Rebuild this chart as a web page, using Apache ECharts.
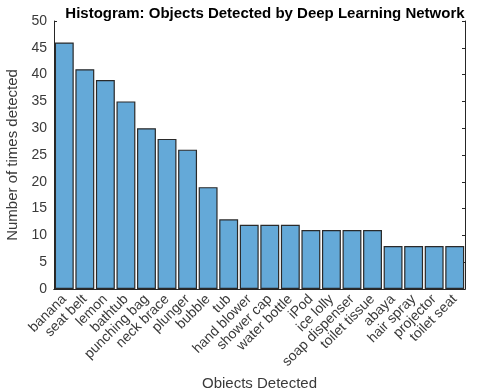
<!DOCTYPE html>
<html><head><meta charset="utf-8">
<script src="https://cdn.jsdelivr.net/npm/echarts@6/dist/echarts.min.js"></script>
<style>html,body{margin:0;padding:0;background:#fff;}#c{width:490px;height:388px;}</style>
</head><body><div id="c"></div>
<script>
const categories = ["banana","seat belt","lemon","bathtub","punching bag","neck brace","plunger","bubble","tub","hand blower","shower cap","water bottle","iPod","ice lolly","soap dispenser","toilet tissue","abaya","hair spray","projector","toilet seat"];
const counts = [46,41,39,35,30,28,26,19,13,12,12,12,11,11,11,11,8,8,8,8];
const yTicks = {min:0,max:50,interval:5};

const font = "Liberation Sans, Arial, Helvetica, sans-serif";
const axisCol = "#262626";
const textCol = "#3a3a3a";
const chart = echarts.init(document.getElementById('c'));
chart.setOption({
  animation:false,
  title:{text:"Histogram: Objects Detected by Deep Learning Network",left:260,textAlign:'center',top:1,
    textStyle:{fontFamily:font,fontSize:15,fontWeight:'bold',color:'#000'}},
  grid:{left:54,right:25,top:21,bottom:99,containLabel:false,outerBoundsMode:'none'},
  xAxis:[{type:'category',data:categories,position:'bottom',
    name:"Objects Detected",nameLocation:'middle',nameGap:76,
    nameTextStyle:{fontFamily:font,fontSize:15,color:textCol},
    axisLine:{lineStyle:{color:axisCol,width:1}},
    axisTick:{inside:true,alignWithLabel:true,length:3,lineStyle:{color:axisCol}},
    axisLabel:{rotate:45,fontFamily:font,fontSize:14,color:textCol,margin:8,interval:0}},
   {type:'category',data:categories,position:'top',
    axisLine:{lineStyle:{color:axisCol,width:1}},
    axisTick:{inside:true,alignWithLabel:true,length:3,lineStyle:{color:axisCol}},
    axisLabel:{show:false}}],
  yAxis:[{type:'value',min:yTicks.min,max:yTicks.max,interval:yTicks.interval,position:'left',
    name:"Number of times detected",nameLocation:'middle',nameGap:29,
    nameTextStyle:{fontFamily:font,fontSize:15,color:textCol},
    axisLine:{show:true,lineStyle:{color:axisCol,width:1}},
    axisTick:{show:true,inside:true,length:3,lineStyle:{color:axisCol}},
    splitLine:{show:false},
    axisLabel:{fontFamily:font,fontSize:14,color:textCol,margin:7}},
   {type:'value',min:yTicks.min,max:yTicks.max,interval:yTicks.interval,position:'right',
    axisLine:{show:true,lineStyle:{color:axisCol,width:1}},
    axisTick:{show:true,inside:true,length:3,lineStyle:{color:axisCol}},
    splitLine:{show:false},axisLabel:{show:false}}],
  series:[{type:'bar',data:counts,xAxisIndex:0,yAxisIndex:0,barCategoryGap:'8%',
    itemStyle:{color:'#64a9d8',borderColor:'#2a2a2a',borderWidth:1.2}}]
});
</script></body></html>
